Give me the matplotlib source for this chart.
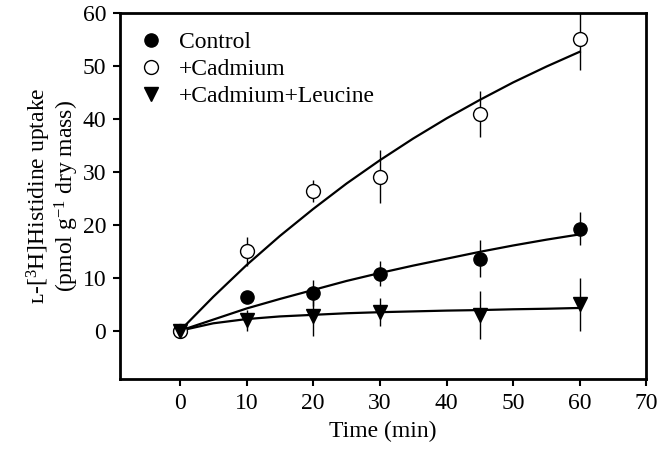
import matplotlib.pyplot as plt

plt.rcParams['font.family'] = ['Liberation Serif', 'DejaVu Serif']
plt.rcParams['mathtext.fontset'] = 'stix'

# measured points
time = [0, 10, 20, 30, 45, 60]
control = [0, 6.4, 7.1, 10.8, 13.6, 19.3]
control_err = [0, 0, 2.5, 2.3, 3.5, 3.2]
cadmium = [0, 15.0, 26.4, 29.1, 40.9, 55.1]
cadmium_err = [0, 2.7, 2.0, 5.0, 4.4, 5.8]
leucine = [0, 2.0, 2.7, 3.5, 3.0, 5.0]
leucine_err = [0, 2.0, 3.7, 2.7, 4.5, 5.0]

# fitted curves, every 5 min
fit_t = [0, 5, 10, 15, 20, 25, 30, 35, 40, 45, 50, 55, 60]
control_fit = [0, 2.1, 4.2, 6.0, 7.7, 9.4, 10.9, 12.3, 13.6, 14.9, 16.1, 17.2, 18.2]
cadmium_fit = [0, 6.4, 12.4, 17.9, 23.0, 27.8, 32.2, 36.3, 40.1, 43.6, 46.9, 49.9, 52.7]
leucine_fit = [0, 1.4, 2.2, 2.7, 3.0, 3.3, 3.5, 3.65, 3.8, 3.9, 4.05, 4.15, 4.3]

fs = 17

fig = plt.figure(figsize=(6.59, 4.5), dpi=100)
ax = fig.add_axes([0.182, 0.158, 0.799, 0.813])

for yf in [control_fit, cadmium_fit, leucine_fit]:
    ax.plot(fit_t, yf, color="black", lw=1.6, zorder=2)

ax.errorbar(time, control, yerr=control_err, fmt="none", ecolor="black", elinewidth=1, capsize=0, zorder=3)
ax.errorbar(time, cadmium, yerr=cadmium_err, fmt="none", ecolor="black", elinewidth=1, capsize=0, zorder=3)
ax.errorbar(time, leucine, yerr=leucine_err, fmt="none", ecolor="black", elinewidth=1, capsize=0, zorder=3)

ax.plot(time, control, "o", ms=9.5, color="black", label="Control", zorder=4)
ax.plot(time, cadmium, "o", ms=10, mfc="white", mec="black", mew=1, label="+Cadmium", zorder=4)
ax.plot(time, leucine, "v", ms=10, color="black", label="+Cadmium+Leucine", zorder=4)

ax.set_xlim(-9, 70)
ax.set_ylim(-9.1, 60)
ax.set_xticks(range(0, 71, 10))
ax.set_yticks(range(0, 61, 10))
ax.tick_params(direction="out", length=5, width=1.5, labelsize=fs, pad=5)
for s in ax.spines.values():
    s.set_linewidth(2)

ax.set_xlabel("Time (min)", fontsize=fs, labelpad=5)
ax.set_ylabel("\u029f-[$\\mathregular{^3}$H]Histidine uptake\n(pmol g$\\mathregular{^{-1}}$ dry mass)",
              fontsize=fs, linespacing=1.0, labelpad=1)

ax.legend(loc="upper left", frameon=False, fontsize=fs, handlelength=1.0, handletextpad=0.7,
          labelspacing=0.22, borderaxespad=0.4)

fig.savefig("out.png", dpi=100)
